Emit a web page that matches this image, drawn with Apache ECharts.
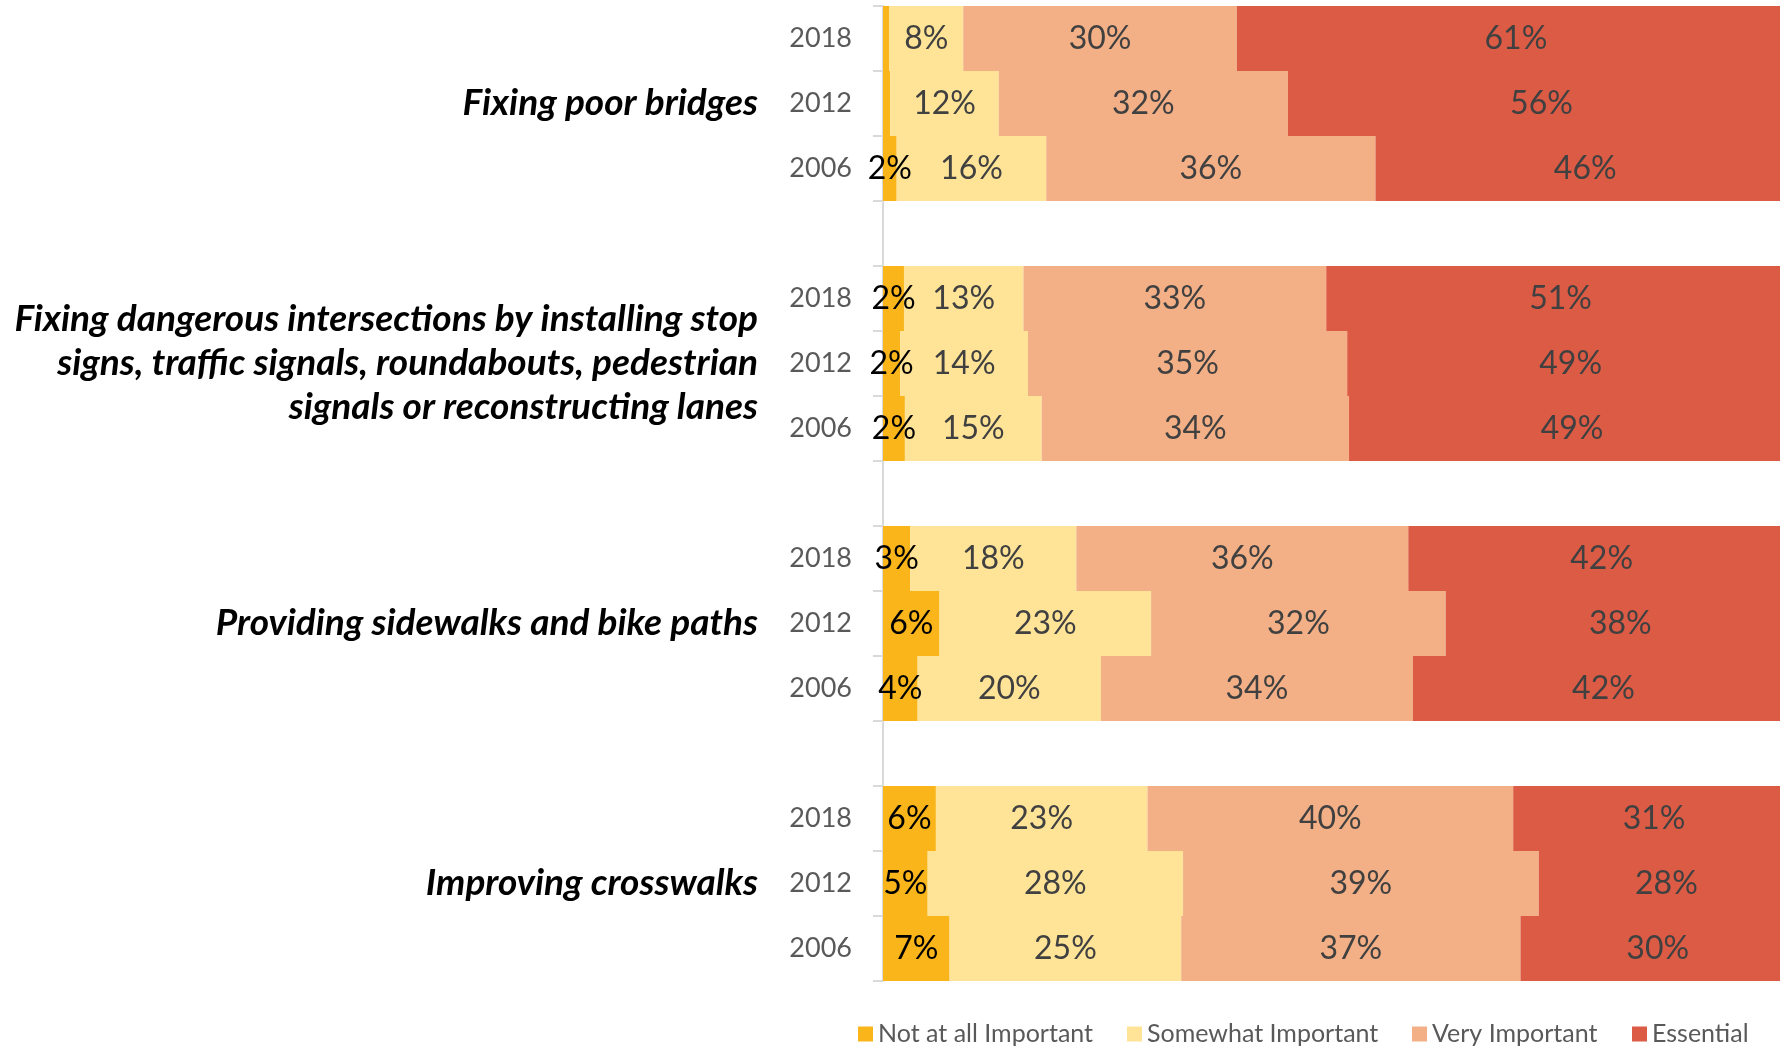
<!DOCTYPE html>
<html>
<head>
<meta charset="utf-8">
<script src="https://cdn.jsdelivr.net/npm/echarts@6/dist/echarts.min.js"></script>
<style>
html, body { margin: 0; padding: 0; background: #fff; }
#chart { width: 1780px; height: 1048px; }
</style>
</head>
<body>
<div id="chart"></div>
<script>
// ---- data ----
const groups = [
  'Fixing poor bridges',
  'Fixing dangerous intersections by installing stop\nsigns, traffic signals, roundabouts, pedestrian\nsignals or reconstructing lanes',
  'Providing sidewalks and bike paths',
  'Improving crosswalks'
];
const years = ['2018', '2012', '2006'];
const seriesNames = ['Not at all Important', 'Somewhat Important', 'Very Important', 'Essential'];
// values per row, in order: group1 2018/2012/2006, group2 ..., group4
const notAtAll  = [0.7, 0.8, 1.5, 2.3, 1.9, 2.4, 3.0, 6.2, 3.8, 5.8, 4.9, 7.3];
const somewhat  = [8.1, 11.9, 16.4, 13.1, 14.0, 15.0, 18.2, 23.2, 20.1, 23.2, 28.0, 25.4];
const very      = [30.0, 31.7, 36.1, 33.2, 35.0, 33.7, 36.4, 32.3, 34.2, 40.1, 39.0, 37.2];
const essential = [61.2, 55.6, 46.0, 51.4, 49.0, 48.9, 42.4, 38.3, 41.8, 30.9, 28.0, 30.1];

const colors = ['#F9B51A', '#FFE498', '#F3B086', '#DC5B45'];

// ---- build rows (with blank spacer rows between groups) ----
const rowYears = [];
const rowGroup = [];      // group label shown on middle row only
const rowIndexMap = [];   // index into value arrays, or -1 for spacer
groups.forEach((g, gi) => {
  years.forEach((y, yi) => {
    rowYears.push(y);
    rowGroup.push(yi === 1 ? g : '');
    rowIndexMap.push(gi * years.length + yi);
  });
  if (gi < groups.length - 1) {
    rowYears.push('');
    rowGroup.push('');
    rowIndexMap.push(-1);
  }
});
const toRows = arr => rowIndexMap.map(i => (i < 0 ? '-' : arr[i]));

const allValues = [notAtAll, somewhat, very, essential];
const FONT = 'Lato, "Open Sans", "Liberation Sans", sans-serif';

const series = allValues.map((vals, si) => ({
  name: seriesNames[si],
  type: 'bar',
  stack: 'total',
  barCategoryGap: 0,
  data: toRows(vals),
  itemStyle: { color: colors[si] },
  label: {
    show: true,
    position: 'inside',
    fontFamily: FONT,
    fontSize: 32,
    color: si === 0 ? '#000000' : '#404040',
    formatter: p => (p.value >= 1 ? Math.round(p.value) + '%' : '')
  },
  emphasis: { disabled: true }
}));

const legendLefts = [858, 1127, 1412, 1632];
const legends = seriesNames.map((n, i) => ({
  data: [n],
  left: legendLefts[i],
  top: 1020,
  padding: 0,
  itemWidth: 15,
  itemHeight: 15,
  itemGap: 0,
  icon: 'rect',
  selectedMode: false,
  textStyle: { fontFamily: FONT, fontSize: 25, color: '#595959', lineHeight: 28, padding: [0, 0, 0, 0] }
}));

const chart = echarts.init(document.getElementById('chart'), null, { renderer: 'canvas' });
chart.setOption({
  animation: false,
  color: colors,
  legend: legends,
  grid: { left: 883, right: -15, top: 6, bottom: 67, containLabel: false, outerBoundsMode: 'none' },
  xAxis: {
    type: 'value', min: 0, max: 100,
    axisLine: { show: false }, axisTick: { show: false },
    axisLabel: { show: false }, splitLine: { show: false }
  },
  yAxis: [
    {
      type: 'category',
      data: rowYears,
      inverse: true,
      axisLine: { show: true, lineStyle: { color: '#D9D9D9', width: 2 } },
      axisTick: { show: true, length: 10, interval: 0, lineStyle: { color: '#D9D9D9', width: 2 } },
      axisLabel: { interval: 0, margin: 31, fontFamily: FONT, fontSize: 27, color: '#595959' },
      splitLine: { show: false }
    },
    {
      type: 'category',
      data: rowYears,
      inverse: true,
      position: 'left',
      offset: 125,
      axisLine: { show: false },
      axisTick: { show: false },
      axisLabel: {
        interval: 0,
        margin: 0,
        fontFamily: FONT,
        fontSize: 37,
        fontWeight: 'bold',
        fontStyle: 'italic',
        color: '#000000',
        lineHeight: 44,
        align: 'right',
        formatter: (v, i) => rowGroup[i]
      },
      splitLine: { show: false }
    }
  ],
  series: series
});
</script>
</body>
</html>
